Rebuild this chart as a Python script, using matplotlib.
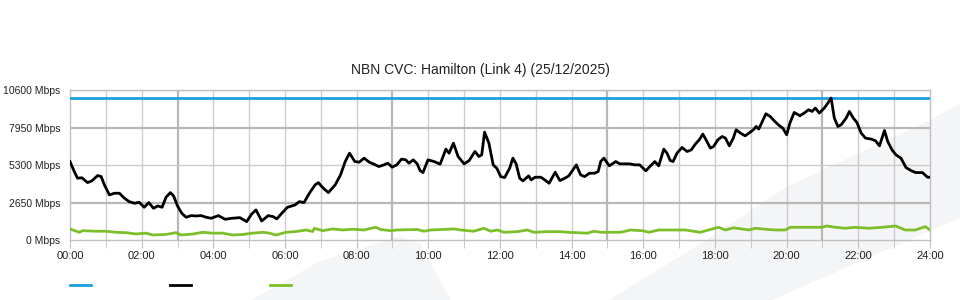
import matplotlib
matplotlib.use('Agg')
from matplotlib import pyplot as plt
from matplotlib.lines import Line2D
from matplotlib.patches import Polygon

plt.rcParams['font.family'] = ['Liberation Sans', 'DejaVu Sans']

title = 'NBN CVC: Hamilton (Link 4) (25/12/2025)'
capacity = 10000  # Mbps, blue line

# black line (hours, Mbps)
used_hours = [0.0, 0.12, 0.21, 0.33, 0.49, 0.61, 0.77, 0.87, 0.96, 1.1, 1.24, 1.38, 1.52, 1.65,
              1.8, 1.93, 2.07, 2.2, 2.33, 2.45, 2.57, 2.68, 2.8, 2.89, 3.0, 3.12, 3.24, 3.38,
              3.52, 3.66, 3.8, 3.94, 4.14, 4.33, 4.51, 4.74, 4.93, 5.07, 5.19, 5.35, 5.53,
              5.67, 5.77, 5.91, 6.07, 6.28, 6.4, 6.53, 6.68, 6.84, 6.93, 7.07, 7.21, 7.4,
              7.55, 7.68, 7.8, 7.95, 8.07, 8.21, 8.35, 8.48, 8.62, 8.76, 8.87, 8.99, 9.12,
              9.25, 9.37, 9.46, 9.58, 9.69, 9.77, 9.85, 9.99, 10.16, 10.33, 10.49, 10.58,
              10.7, 10.83, 11.0, 11.14, 11.3, 11.41, 11.49, 11.57, 11.69, 11.81, 11.91,
              12.02, 12.13, 12.27, 12.36, 12.45, 12.55, 12.64, 12.8, 12.87, 12.98, 13.14,
              13.25, 13.37, 13.54, 13.67, 13.81, 13.92, 14.13, 14.25, 14.36, 14.5, 14.64,
              14.74, 14.81, 14.9, 15.05, 15.23, 15.34, 15.62, 15.76, 15.9, 16.07, 16.2,
              16.32, 16.43, 16.57, 16.66, 16.75, 16.83, 16.94, 17.08, 17.22, 17.34, 17.45,
              17.56, 17.66, 17.75, 17.87, 17.96, 18.08, 18.2, 18.29, 18.4, 18.51, 18.59,
              18.71, 18.84, 18.95, 19.07, 19.15, 19.22, 19.3, 19.42, 19.54, 19.67, 19.8,
              19.89, 20.0, 20.09, 20.21, 20.37, 20.49, 20.61, 20.71, 20.8, 20.91, 21.05,
              21.15, 21.24, 21.33, 21.43, 21.52, 21.66, 21.75, 21.86, 21.96, 22.08, 22.2,
              22.36, 22.48, 22.59, 22.73, 22.82, 22.94, 23.05, 23.19, 23.33, 23.47, 23.6,
              23.79, 23.93, 24.0]
used_mbps = [5544, 4836, 4366, 4400, 4057, 4177, 4553, 4482, 3894, 3186, 3304, 3304, 2950, 2714,
             2596, 2667, 2313, 2643, 2242, 2407, 2313, 3021, 3351, 3115, 2407, 1888, 1605, 1723,
             1700, 1723, 1605, 1534, 1723, 1463, 1534, 1581, 1298, 1840, 2124, 1345, 1723,
             1652, 1487, 1888, 2313, 2478, 2714, 2643, 3304, 3894, 4057, 3658, 3351, 3894,
             4602, 5544, 6136, 5544, 5500, 5784, 5500, 5360, 5190, 5310, 5430, 5147, 5310,
             5713, 5664, 5430, 5664, 5380, 4906, 4765, 5664, 5544, 5360, 6422, 6136,
             6846, 5900, 5380, 5617, 6254, 5900, 6018, 7624, 6846, 5310, 5076,
             4482, 4412, 5076, 5784, 5380, 4366, 4177, 4531, 4248, 4436, 4436,
             4248, 4011, 4790, 4200, 4366, 4531, 5310, 4602, 4482, 4719, 4719,
             4836, 5544, 5784, 5239, 5544, 5380, 5380, 5310, 5310, 4885, 5239,
             5544, 5239, 6422, 6136, 5617, 5544, 6136, 6538, 6254, 6372, 6776,
             7080, 7483, 7080, 6492, 6606, 7080, 7314, 7200, 6655, 7200, 7788,
             7554, 7363, 7554, 7788, 8022, 7837, 8262, 8921, 8730, 8376, 8071,
             7908, 7434, 8262, 9013, 8779, 8970, 9204, 9084, 9324, 8970, 9324,
             9678, 10033, 8616, 8022, 8142, 8616, 9084, 8616, 8305, 7554, 7200,
             7130, 7009, 6655, 7738, 6960, 6372, 6018, 5784, 5119, 4906, 4765,
             4765, 4436, 4436]

# green line (hours, Mbps)
other_hours = [0.0, 0.26, 0.35, 0.73, 1.0, 1.28, 1.56, 1.84, 2.12, 2.31, 2.68, 2.96, 3.1, 3.42,
               3.7, 3.98, 4.26, 4.54, 4.82, 5.1, 5.38, 5.56, 5.75, 6.03, 6.31, 6.59, 6.77,
               6.82, 7.05, 7.33, 7.61, 7.89, 8.2, 8.53, 8.67, 8.95, 9.13, 9.69, 9.88, 10.07,
               10.72, 10.9, 11.27, 11.55, 11.74, 11.93, 12.11, 12.49, 12.76, 12.95, 13.32,
               13.69, 13.88, 14.44, 14.62, 14.81, 15.37, 15.65, 16.0, 16.15, 16.43, 16.89,
               17.17, 17.59, 17.82, 18.1, 18.29, 18.52, 18.75, 18.94, 19.13, 19.4, 19.68,
               19.96, 20.1, 20.98, 21.12, 21.36, 21.64, 21.91, 22.29, 22.66, 23.04, 23.31,
               23.59, 23.87, 24.0]
other_mbps = [780, 545, 660, 620, 620, 545, 520, 425, 485, 354, 390, 520, 354, 420,
              545, 485, 485, 354, 390, 485, 545, 485, 354, 545, 600, 708, 600,
              830, 660, 780, 708, 760, 708, 897, 740, 660, 708, 740, 620, 708,
              780, 708, 620, 830, 620, 708, 545, 590, 708, 545, 590,
              590, 545, 485, 620, 545, 545, 708, 650, 545, 708, 708,
              708, 545, 708, 897, 708, 860, 780, 708, 830, 760, 708,
              708, 897, 897, 990, 897, 830, 897, 830, 897, 990, 708,
              708, 944, 708]

y_ticks = [0, 2650, 5300, 7950, 10600]
x_ticks = list(range(0, 25, 2))
x_labels = ['%02d:00' % h for h in x_ticks]

W, H = 960, 300
fig = plt.figure(figsize=(9.6, 3.0), dpi=100)

# faint background watermark shapes
def px(pts):
    return [(x / W, 1 - y / H) for x, y in pts]

wm = '#f4f5f7'
fig.add_artist(Polygon(px([(610, 300), (700, 245), (788, 187), (932, 120), (960, 104),
                           (960, 217), (770, 300)]), closed=True, color=wm, zorder=0))
fig.add_artist(Polygon(px([(253, 300), (320, 262), (400, 237), (420, 245), (450, 300)]),
                       closed=True, color=wm, zorder=0))

ax = fig.add_axes([70 / W, 1 - 240 / H, 860 / W, 150 / H])
ax.set_facecolor('none')

# grid
for h in range(1, 24):
    if h % 6 == 3:
        ax.axvline(h, color='#b8b8b8', lw=1.6, zorder=1)
    else:
        ax.axvline(h, color='#cccccc', lw=1.0, zorder=1)
for v in y_ticks[1:]:
    if v in (2650, 7950):
        ax.axhline(v, color='#b8b8b8', lw=1.6, zorder=1)
    else:
        ax.axhline(v, color='#cccccc', lw=1.0, zorder=1)

ax.axhline(capacity, color='#1ba1e2', lw=2, zorder=3)
ax.plot(used_hours, used_mbps, color='black', lw=2, zorder=4)
ax.plot(other_hours, other_mbps, color='#7dbf2a', lw=2, zorder=3)

ax.set_xlim(0, 24)
ax.set_ylim(0, 10600)
ax.set_xticks(x_ticks)
ax.set_xticklabels(x_labels)
ax.set_xticks(range(0, 25), minor=True)
ax.set_yticks(y_ticks)
ax.set_yticklabels(['%d Mbps' % v for v in y_ticks])
ax.tick_params(axis='x', which='both', length=6, color='#c0c0c0', labelsize=8, pad=2,
               labelcolor='#222222')
ax.tick_params(axis='y', length=0, labelsize=7.5, pad=7, labelcolor='#222222')
for s in ax.spines.values():
    s.set_color('#c0c0c0')
    s.set_linewidth(1)

fig.text(0.5, 1 - 70 / H, title, ha='center', va='center', fontsize=10, color='#222222')

# legend swatches (no labels)
for x0, c in [(70, '#1ba1e2'), (170, 'black'), (270, '#7dbf2a')]:
    fig.add_artist(Line2D([x0 / W, (x0 + 21) / W], [1 - 285 / H] * 2, color=c, lw=2))

fig.savefig('out.png', dpi=100)
